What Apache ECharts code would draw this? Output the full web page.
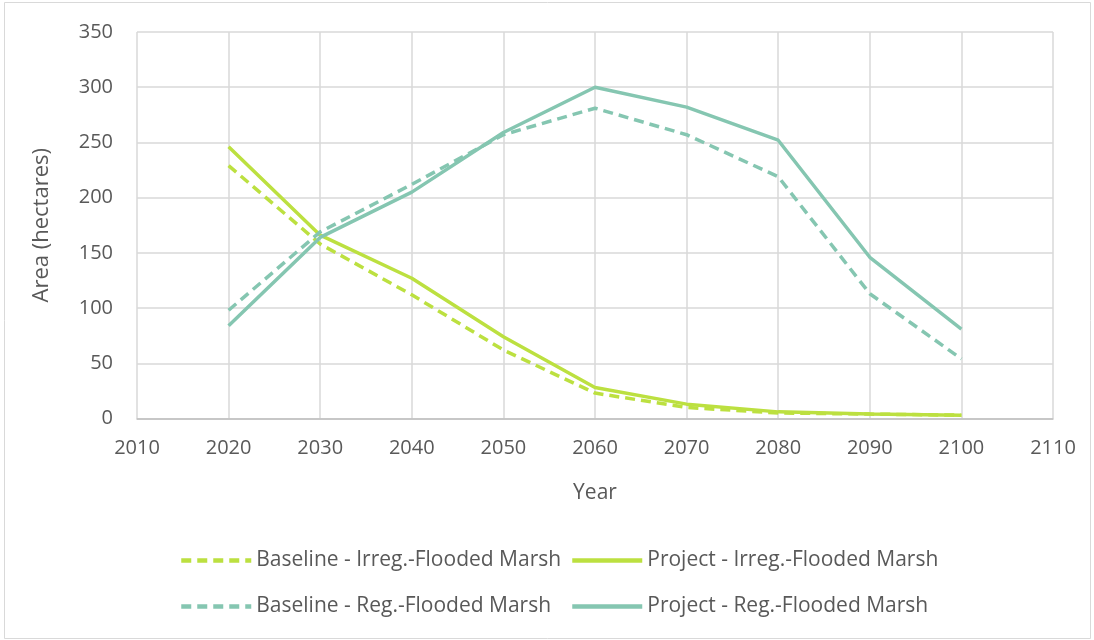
<!DOCTYPE html>
<html>
<head>
<meta charset="utf-8">
<script src="https://cdn.jsdelivr.net/npm/echarts@6/dist/echarts.min.js"></script>
<style>
  html, body { margin: 0; padding: 0; background: #fff; }
  #chart { width: 1094px; height: 640px; }
</style>
</head>
<body>
<div id="chart"></div>
<script>
// Marsh area projections, 2020-2100
const years = [2020, 2030, 2040, 2050, 2060, 2070, 2080, 2090, 2100];
const baselineIrreg = [229, 158, 112, 62, 23, 10, 5, 4, 3];
const projectIrreg  = [246, 166, 127, 74, 28, 13, 6, 4, 3];
const baselineReg   = [98, 169, 212, 257, 281, 257, 219, 113, 54];
const projectReg    = [84, 164, 205, 259, 300, 282, 252, 146, 81];

const seriesNames = [
  'Baseline - Irreg.-Flooded Marsh',
  'Project - Irreg.-Flooded Marsh',
  'Baseline - Reg.-Flooded Marsh',
  'Project - Reg.-Flooded Marsh'
];

const LIME = '#BCE040';
const TEAL = '#85C6B1';
const TEXT = '#595959';
const FONT = 'Open Sans';
const DASH = [10, 6];

function pairs(vals) {
  return years.map((y, i) => [y, vals[i]]);
}

function lineSeries(name, vals, color, dashed) {
  return {
    name: name,
    type: 'line',
    data: pairs(vals),
    symbol: 'none',
    lineStyle: { color: color, width: 3.5, type: dashed ? DASH : 'solid', cap: 'butt' },
    itemStyle: { color: color },
    z: 3
  };
}

// One legend per entry so the two columns line up
function legendAt(name, left, top) {
  return {
    data: [name],
    left: left,
    top: top,
    itemWidth: 70,
    itemHeight: 14,
    itemGap: 0,
    itemStyle: { opacity: 0 },
    lineStyle: { width: 4.5 },
    textStyle: { color: TEXT, fontFamily: FONT, fontSize: 21 },
    selectedMode: false
  };
}

const chart = echarts.init(document.getElementById('chart'), null, { renderer: 'canvas' });

chart.setOption({
  backgroundColor: '#fff',
  animation: false,
  graphic: [{
    type: 'rect',
    shape: { x: 4.5, y: 2.5, width: 1086, height: 636 },
    style: { fill: 'none', stroke: '#D9D9D9', lineWidth: 1 },
    silent: true
  }],
  grid: { left: 137, right: 41, top: 32, height: 386.5, containLabel: false },
  xAxis: {
    type: 'value',
    min: 2010,
    max: 2110,
    interval: 10,
    name: 'Year',
    nameLocation: 'middle',
    nameGap: 64,
    nameTextStyle: { color: TEXT, fontFamily: FONT, fontSize: 21 },
    axisLine: { show: true, lineStyle: { color: '#BFBFBF', width: 1.5 } },
    axisTick: { show: false },
    axisLabel: {
      color: TEXT, fontFamily: FONT, fontSize: 20, margin: 20,
      formatter: v => String(v)
    },
    splitLine: { show: true, lineStyle: { color: '#D9D9D9', width: 1.5 } }
  },
  yAxis: {
    type: 'value',
    min: 0,
    max: 350,
    interval: 50,
    name: 'Area (hectares)',
    nameLocation: 'middle',
    nameGap: 84,
    nameTextStyle: { color: TEXT, fontFamily: FONT, fontSize: 22 },
    axisLine: { show: false },
    axisTick: { show: false },
    axisLabel: { color: TEXT, fontFamily: FONT, fontSize: 20, margin: 24 },
    splitLine: { show: true, lineStyle: { color: '#D9D9D9', width: 1.5 } }
  },
  legend: [
    legendAt(seriesNames[0], 174, 545),
    legendAt(seriesNames[1], 565, 545),
    legendAt(seriesNames[2], 174, 591),
    legendAt(seriesNames[3], 565, 591)
  ],
  series: [
    lineSeries(seriesNames[0], baselineIrreg, LIME, true),
    lineSeries(seriesNames[1], projectIrreg, LIME, false),
    lineSeries(seriesNames[2], baselineReg, TEAL, true),
    lineSeries(seriesNames[3], projectReg, TEAL, false)
  ]
});
</script>
</body>
</html>
